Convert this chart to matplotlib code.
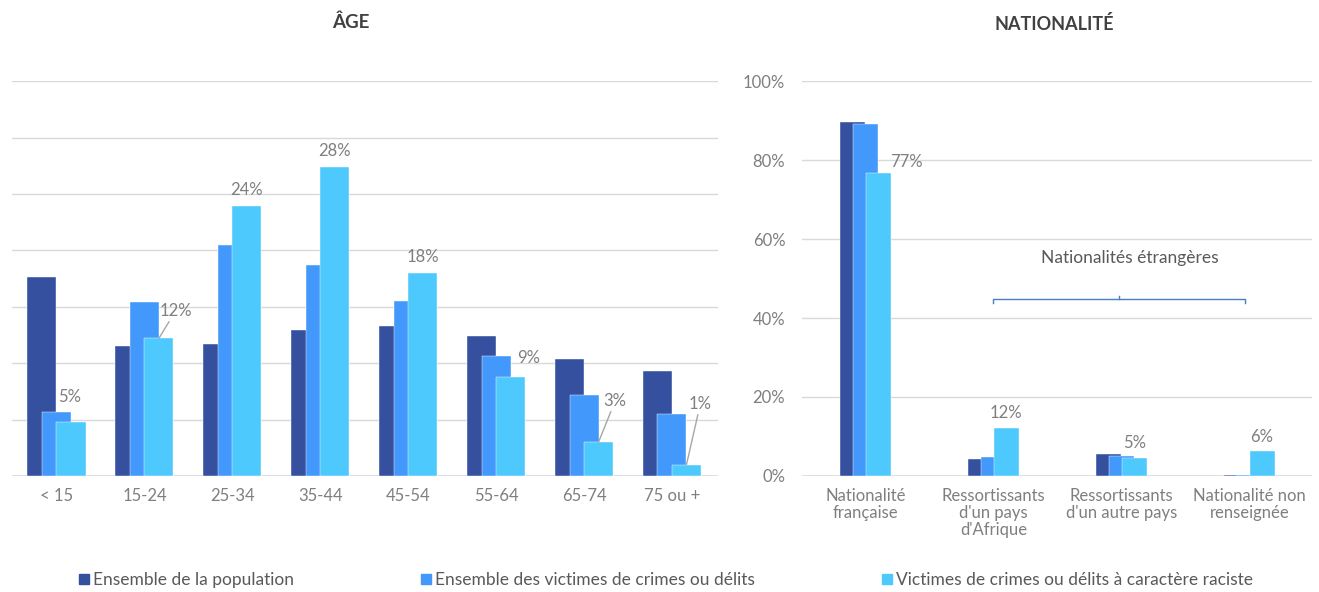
import matplotlib.pyplot as plt
from matplotlib.lines import Line2D
import numpy as np

plt.rcParams['font.family'] = ['Lato', 'DejaVu Sans']

# données (%)
age_labels = ['< 15', '15-24', '25-34', '35-44', '45-54', '55-64', '65-74', '75 ou +']
age_pop = [17.6, 11.5, 11.7, 12.9, 13.3, 12.4, 10.4, 9.3]
age_victimes = [5.7, 15.4, 20.5, 18.7, 15.5, 10.6, 7.2, 5.5]
age_racistes = [4.8, 12.2, 23.9, 27.4, 18.0, 8.8, 3.0, 1.0]
age_etiquettes = ['5%', '12%', '24%', '28%', '18%', '9%', '3%', '1%']

nat_labels = ['Nationalité\nfrançaise', "Ressortissants\nd'un pays\nd'Afrique",
              "Ressortissants\nd'un autre pays", 'Nationalité non\nrenseignée']
nat_pop = [89.6, 4.3, 5.6, 0.3]
nat_victimes = [89.2, 4.8, 5.1, 0.3]
nat_racistes = [76.7, 12.2, 4.6, 6.2]
nat_etiquettes = ['77%', '12%', '5%', '6%']

series = ['Ensemble de la population', 'Ensemble des victimes de crimes ou délits',
          'Victimes de crimes ou délits à caractère raciste']
colors = ['#34509e', '#4398fb', '#4ec9fd']
GRID = '#d9d9d9'
TXT = '#7f7f7f'

fig = plt.figure(figsize=(13.19, 5.92), dpi=100)
ax1 = fig.add_axes([0.0091, 0.196, 0.535, 0.667])
ax2 = fig.add_axes([0.608, 0.196, 0.3867, 0.667])


def style(ax):
    for s in ax.spines.values():
        s.set_visible(False)
    ax.set_axisbelow(True)
    ax.grid(axis='y', color=GRID, linewidth=1)
    ax.tick_params(length=0, colors=TXT, labelsize=12)
    ax.axhline(0, color=GRID, linewidth=1.2, zorder=1)


# ---- ÂGE ----
x = np.arange(len(age_labels))
w, step = 0.33, 0.165
for i, vals in enumerate([age_pop, age_victimes, age_racistes]):
    ax1.bar(x + (i - 1) * step, vals, w, color=colors[i], zorder=2 + i,
            edgecolor='white', linewidth=0.3)
ax1.set_xlim(-0.506, 7.52)
ax1.set_ylim(0, 35)
ax1.set_yticks(np.arange(0, 36, 5))
ax1.set_yticklabels([])
ax1.set_xticks(x)
ax1.set_xticklabels(age_labels)
style(ax1)
ax1.tick_params(axis='x', pad=9)

# étiquettes : (dx, dy) en points, trait de rappel ou non
offsets = [(0, 12, False), (12, 14, True), (0, 6, False), (0, 6, False),
           (0, 6, False), (13, 8, False), (12, 24, True), (10, 38, True)]
for i, (lab, (dx, dy, lead)) in enumerate(zip(age_etiquettes, offsets)):
    xb = x[i] + step
    yb = age_racistes[i]
    if i == 0:
        xb = x[i] + step * 0.9
    ap = dict(arrowstyle='-', color='#a6a6a6', lw=1, shrinkA=0, shrinkB=0) if lead else None
    ax1.annotate(lab, (xb, yb), xytext=(dx, dy), textcoords='offset points',
                 ha='center', va='bottom', color=TXT, fontsize=12,
                 arrowprops=ap, zorder=10)

# ---- NATIONALITÉ ----
x2 = np.arange(len(nat_labels))
w2, step2 = 0.195, 0.1
for i, vals in enumerate([nat_pop, nat_victimes, nat_racistes]):
    ax2.bar(x2 + (i - 1) * step2, vals, w2, color=colors[i], zorder=2 + i,
            edgecolor='white', linewidth=0.3)
ax2.set_xlim(-0.496, 3.49)
ax2.set_ylim(0, 100)
ax2.set_yticks(np.arange(0, 101, 20))
ax2.set_yticklabels([f'{v}%' for v in range(0, 101, 20)])
ax2.set_xticks(x2)
ax2.set_xticklabels(nat_labels, linespacing=1.05)
style(ax2)
ax2.tick_params(axis='y', pad=12)
ax2.tick_params(axis='x', pad=9)

nat_off = [(20, 2), (0, 5), (0, 5), (0, 5)]
for i, lab in enumerate(nat_etiquettes):
    dx, dy = nat_off[i]
    ax2.annotate(lab, (x2[i] + step2, nat_racistes[i]), xytext=(dx, dy),
                 textcoords='offset points', ha='center', va='bottom',
                 color=TXT, fontsize=12, zorder=10)

# accolade "Nationalités étrangères"
bc = '#4a7fc1'
xa, xb_ = 0.995, 2.97
yb = 44.8
ax2.plot([xa, xa, xb_, xb_], [yb - 1, yb, yb, yb - 1], color=bc, lw=1, zorder=6)
xm = (xa + xb_) / 2
ax2.plot([xm, xm], [yb, yb + 0.8], color=bc, lw=1, zorder=6)
ax2.text(2.07, 55.2, 'Nationalités étrangères', ha='center', va='center',
         color='#595959', fontsize=12.5)

# titres
fig.text(0.266, 0.962, 'ÂGE', ha='center', va='center', fontsize=13.5,
         fontweight='bold', color='#404040')
fig.text(0.799, 0.96, 'NATIONALITÉ', ha='center', va='center', fontsize=13,
         fontweight='bold', color='#404040')

# légende
handles = [Line2D([], [], marker='s', linestyle='', color=c, markersize=7) for c in colors]
leg = fig.legend(handles, series, loc='center left', bbox_to_anchor=(0.045, 0.02),
                 ncol=3, frameon=False, fontsize=12.5, handletextpad=0.05,
                 handlelength=1.0, columnspacing=7.08)
for t in leg.get_texts():
    t.set_color('#595959')

fig.savefig('out.png', dpi=100)
